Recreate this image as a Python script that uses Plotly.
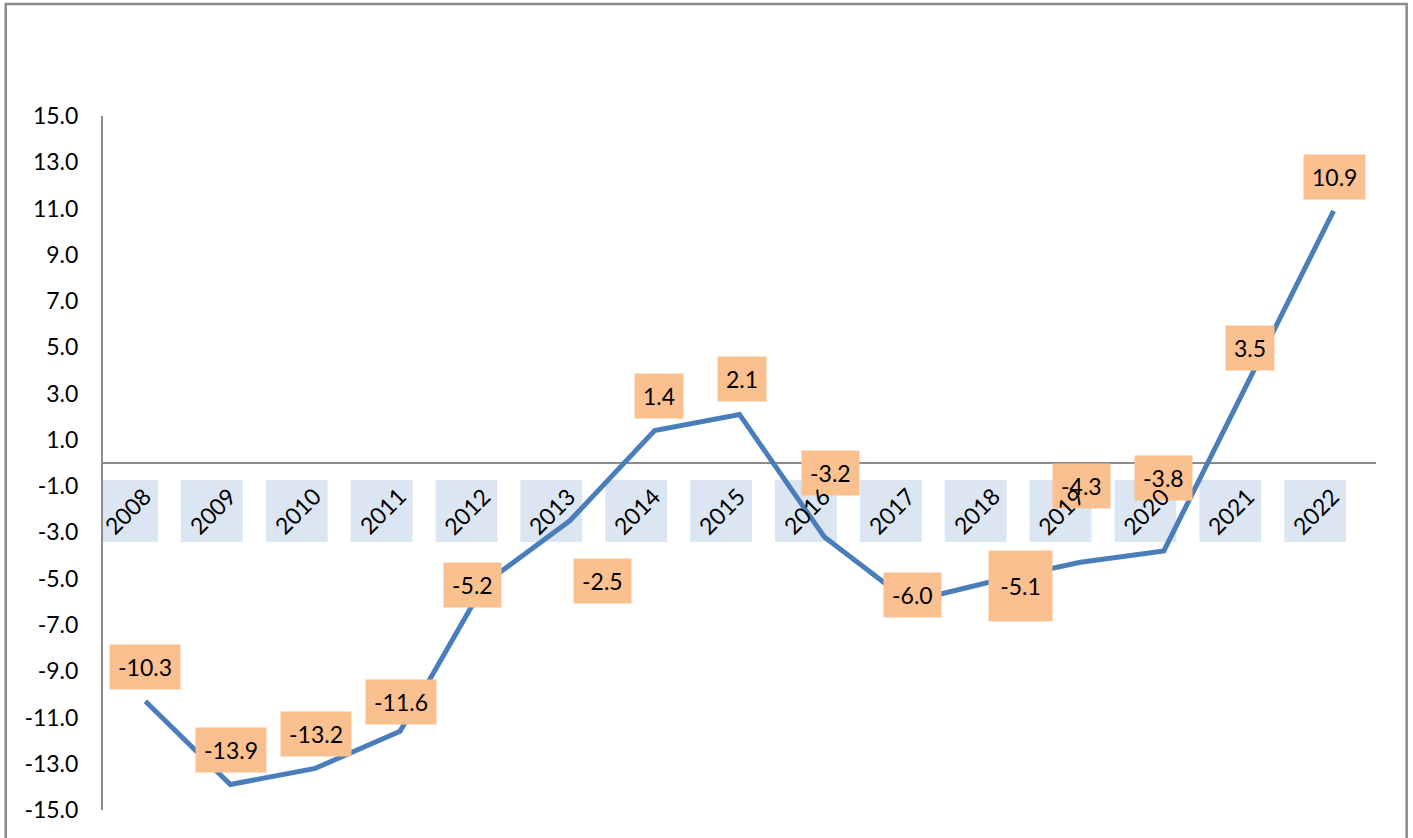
import plotly.graph_objects as go

years = ["2008", "2009", "2010", "2011", "2012", "2013", "2014", "2015",
         "2016", "2017", "2018", "2019", "2020", "2021", "2022"]
values = [-10.3, -13.9, -13.2, -11.6, -5.2, -2.5, 1.4, 2.1,
          -3.2, -6.0, -5.1, -4.3, -3.8, 3.5, 10.9]
y_ticks = [-15, -13, -11, -9, -7, -5, -3, -1, 1, 3, 5, 7, 9, 11, 13, 15]

# label offsets (pixels) relative to each point
label_dx = [0, 1, 1, 1, -12, 33, 4, 2, 6, 3, 26, 3, 0, 1, 1]
label_dy = [34, 35, 34, 29, -2, -60, 35, 35, 64, 7, -5, 76, 73, 34, 34]

FONT = "Lato"
LINE_BLUE = "#4A7EBB"
ORANGE = "#FAC090"
BOX_BLUE = "#DCE6F2"
GRAY = "#8C8C8C"

fig = go.Figure()
fig.add_trace(go.Scatter(
    x=years, y=values, mode="lines",
    line=dict(color=LINE_BLUE, width=5),
    hoverinfo="skip", showlegend=False,
))

shapes = []
annotations = []

# category label boxes near the zero line
for i, yr in enumerate(years):
    shapes.append(dict(
        type="rect", xref="x", yref="y",
        x0=i - 0.582, x1=i + 0.148, y0=-3.415, y1=-0.735,
        fillcolor=BOX_BLUE, line=dict(width=0), layer="below",
    ))

# data labels
for i, (yr, v) in enumerate(zip(years, values)):
    extra = {}
    if yr == "2018":
        extra = dict(height=54, width=47)
    annotations.append(dict(
        x=i, y=v, xref="x", yref="y", text=f"{v:.1f}", showarrow=False,
        xshift=label_dx[i], yshift=label_dy[i],
        bgcolor=ORANGE, borderpad=8,
        font=dict(family=FONT, size=23, color="black"),
        **extra,
    ))

# category labels (drawn above data labels)
for i, yr in enumerate(years):
    annotations.append(dict(
        x=i, y=-2.08, xref="x", yref="y", text=yr, showarrow=False,
        textangle=-45, xshift=-18,
        font=dict(family=FONT, size=23, color="black"),
    ))

# zero line
shapes.append(dict(
    type="line", xref="paper", yref="y", x0=0, x1=1, y0=0, y1=0,
    line=dict(color=GRAY, width=2), layer="below",
))
# outer chart border
shapes.append(dict(
    type="rect", xref="paper", yref="paper",
    x0=-0.0764, x1=1.0241, y0=-0.06, y1=1.1614,
    line=dict(color=GRAY, width=2.5), fillcolor="rgba(0,0,0,0)",
))

fig.update_layout(
    width=1413, height=838,
    margin=dict(l=103, r=37, t=116, b=28),
    paper_bgcolor="white", plot_bgcolor="white",
    shapes=shapes, annotations=annotations,
    showlegend=False,
    xaxis=dict(
        type="category", range=[-0.5, len(years) - 0.5],
        showticklabels=False, showline=False, showgrid=False,
        zeroline=False, ticks="",
    ),
    yaxis=dict(
        range=[-15, 15], tickvals=y_ticks,
        ticktext=[f"{t:.1f}" for t in y_ticks],
        showgrid=False, zeroline=False,
        showline=True, linecolor=GRAY, linewidth=2,
        ticks="", ticklen=0, ticklabelstandoff=18,
        tickfont=dict(family=FONT, size=23, color="black"),
    ),
)

fig.write_html("out.html", config={"displayModeBar": False},
               post_script="document.body.style.margin='0';")
